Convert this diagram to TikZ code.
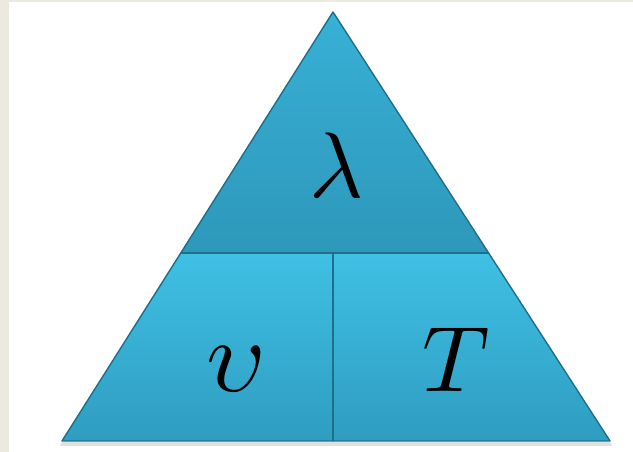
\documentclass[tikz,border=0pt]{standalone}
\usepackage{amsmath}
\usepackage{graphicx}
\usepackage{tikz}
\definecolor{paper}{HTML}{ECEAE0}
\definecolor{skytop}{HTML}{38B0D6}
\definecolor{skybot}{HTML}{2D98BA}
\definecolor{boxtop}{HTML}{3FC0E4}
\definecolor{boxbot}{HTML}{2E9DC1}
\definecolor{rim}{HTML}{1E7089}
\tikzset{
    part/.style={draw=rim, line width=0.8pt, line join=round},
    lbl/.style={inner sep=0pt, anchor=base}
}

\begin{document}
\begin{tikzpicture}[x=0.02cm, y=-0.02cm]
    \fill[paper] (0,0) rectangle (633,452);
    \fill[white] (9,2) rectangle (633,452);
    \useasboundingbox (0,0) rectangle (633,452);
    \coordinate (apex) at (333,12);
    \coordinate (left) at (62,441);
    \coordinate (right) at (610,441);
    \coordinate (cutl) at (180.8,253);
    \coordinate (cutr) at (488.6,253);
    \coordinate (mid) at (333,253);
    \coordinate (foot) at (333,441);
    \fill[black!12] (62,442) -- (610,442) -- (612,446) -- (60,446) -- cycle;
    \shade[part, top color=skytop, bottom color=skybot] (apex) -- (cutr) -- (cutl) -- cycle;
    \shade[part, top color=boxtop, bottom color=boxbot] (cutl) -- (mid) -- (foot) -- (left) -- cycle;
    \shade[part, top color=boxtop, bottom color=boxbot] (mid) -- (cutr) -- (right) -- (foot) -- cycle;
    \draw[rim, line width=1.6pt] (cutl) -- (cutr);
    \draw[rim, line width=1.6pt] (mid) -- (foot);
    \node[lbl] (lam) at (337,198) {\scalebox{5.3}{$\lambda$}};
    \node[lbl] (vel) at (236,392) {\scalebox{5.9}{$\upsilon$}};
    \node[lbl] (per) at (456,392) {\scalebox{5.3}{$T$}};
\end{tikzpicture}
\end{document}
